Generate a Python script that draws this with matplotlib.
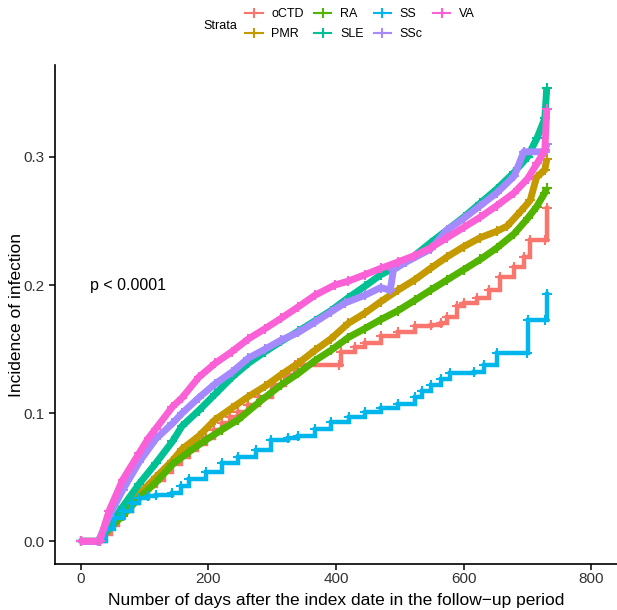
import matplotlib
matplotlib.use('Agg')
import matplotlib.pyplot as plt
from matplotlib.lines import Line2D

plt.rcParams.update({
  'font.family'      : 'Liberation Sans',
  'font.size'        : 11,
  'figure.facecolor' : 'w',
  'figure.dpi'       : 100,
  'axes.linewidth'   : 1.2,
  'xtick.direction'  : 'out',
  'ytick.direction'  : 'out',
  'xtick.major.size' : 4,
  'ytick.major.size' : 4,
  'xtick.major.width': 1.1,
  'ytick.major.width': 1.1,
  'xtick.major.pad'  : 2,
})

strata = ['oCTD', 'PMR', 'RA', 'SLE', 'SS', 'SSc', 'VA']
colors = ['#F8766D', '#C49A00', '#53B400', '#00C094', '#00B6EB', '#A58AFF', '#FB61D7']

# (day, cumulative incidence)
octd_days = [0, 28, 38, 48, 58, 68, 80, 92, 105, 118, 131, 144, 157, 170, 183, 196, 209, 221, 234, 247, 263, 280,
             300, 320, 336, 405, 408, 430, 445, 470, 497, 523, 548, 565, 574, 590, 600, 621, 640, 657, 679, 694, 704,
             727, 730]
octd_vals = [0, 0, 0.006, 0.013, 0.018, 0.024, 0.030, 0.036, 0.043, 0.048, 0.054, 0.060, 0.066, 0.071, 0.076, 0.081,
             0.087, 0.092, 0.097, 0.101, 0.106, 0.113, 0.122, 0.130, 0.1375, 0.1375, 0.148, 0.152, 0.155, 0.160, 0.163,
             0.168, 0.169, 0.170, 0.175, 0.184, 0.186, 0.190, 0.196, 0.206, 0.214, 0.222, 0.235, 0.235, 0.260]

pmr_days = [0, 28, 45, 66, 92, 118, 144, 159, 185, 211, 237, 263, 289, 314, 341, 367, 392, 419, 445, 470, 497, 523,
            548, 574, 600, 626, 652, 668, 690, 704, 714, 727, 730]
pmr_vals = [0, 0, 0.010, 0.022, 0.037, 0.050, 0.063, 0.072, 0.082, 0.095, 0.104, 0.113, 0.121, 0.130, 0.139, 0.149,
            0.158, 0.170, 0.178, 0.187, 0.196, 0.204, 0.213, 0.222, 0.230, 0.237, 0.242, 0.246, 0.258, 0.266, 0.284,
            0.290, 0.298]

ra_days = [0, 28, 45, 66, 92, 118, 144, 170, 196, 221, 247, 283, 314, 341, 367, 392, 419, 445, 470, 497, 523, 548,
           574, 600, 626, 652, 679, 700, 714, 727, 730]
ra_vals = [0, 0, 0.010, 0.020, 0.034, 0.046, 0.060, 0.070, 0.079, 0.087, 0.095, 0.110, 0.122, 0.131, 0.141, 0.149,
           0.159, 0.166, 0.173, 0.180, 0.188, 0.196, 0.204, 0.212, 0.220, 0.229, 0.240, 0.252, 0.261, 0.272, 0.276]

sle_days = [0, 28, 45, 66, 92, 118, 144, 159, 185, 211, 237, 263, 289, 314, 341, 367, 392, 419, 445, 470, 497, 523,
            548, 574, 600, 626, 652, 679, 700, 715, 727, 730]
sle_vals = [0, 0, 0.012, 0.027, 0.045, 0.061, 0.078, 0.090, 0.102, 0.115, 0.128, 0.139, 0.148, 0.156, 0.164, 0.172,
            0.180, 0.190, 0.199, 0.208, 0.215, 0.223, 0.233, 0.243, 0.253, 0.264, 0.275, 0.288, 0.300, 0.315, 0.330,
            0.354]

ss_days = [0, 28, 40, 53, 66, 80, 92, 105, 118, 144, 158, 170, 196, 221, 247, 274, 299, 325, 341, 367, 392, 420, 445,
           470, 497, 523, 535, 548, 565, 579, 616, 632, 652, 699, 701, 727, 730]
ss_vals = [0, 0, 0.010, 0.018, 0.024, 0.030, 0.034, 0.035, 0.036, 0.038, 0.043, 0.049, 0.054, 0.061, 0.066, 0.071,
           0.079, 0.081, 0.082, 0.088, 0.093, 0.097, 0.101, 0.104, 0.107, 0.113, 0.117, 0.122, 0.127, 0.131, 0.132,
           0.1375, 0.147, 0.147, 0.173, 0.173, 0.193]

ssc_days = [0, 28, 45, 66, 92, 118, 144, 159, 185, 211, 237, 263, 289, 314, 341, 367, 392, 414, 445, 470, 485, 490,
            510, 548, 574, 600, 626, 652, 679, 694, 727, 730]
ssc_vals = [0, 0, 0.020, 0.040, 0.062, 0.080, 0.092, 0.100, 0.112, 0.123, 0.132, 0.143, 0.150, 0.157, 0.163, 0.171,
            0.179, 0.186, 0.192, 0.198, 0.196, 0.212, 0.218, 0.228, 0.243, 0.252, 0.262, 0.272, 0.285, 0.304, 0.304,
            0.310]

va_days = [0, 30, 45, 66, 92, 107, 118, 144, 159, 185, 211, 237, 263, 289, 314, 341, 367, 398, 419, 445, 470, 497,
           523, 548, 574, 600, 626, 652, 679, 700, 715, 727, 730]
va_vals = [0, 0, 0.024, 0.048, 0.069, 0.081, 0.088, 0.105, 0.112, 0.128, 0.139, 0.148, 0.158, 0.166, 0.174, 0.183,
           0.192, 0.200, 0.203, 0.208, 0.213, 0.218, 0.223, 0.229, 0.237, 0.245, 0.253, 0.262, 0.272, 0.283, 0.295,
           0.305, 0.337]

curves = [(octd_days, octd_vals), (pmr_days, pmr_vals), (ra_days, ra_vals), (sle_days, sle_vals),
          (ss_days, ss_vals), (ssc_days, ssc_vals), (va_days, va_vals)]
stepped = ['oCTD', 'SS']

xticks = [0, 200, 400, 600, 800]
yticks = [0.0, 0.1, 0.2, 0.3]

fig = plt.figure(figsize=(6.17, 6.10))
ax = fig.add_axes([0.0891, 0.0754, 0.9109, 0.818])

for name, col, (d, v) in zip(strata, colors, curves):
    if name in stepped:
        ax.plot(d, v, color=col, lw=3.2, drawstyle='steps-post', solid_joinstyle='miter')
        ax.plot(d, v, color=col, lw=0, marker='+', ms=7, mew=1.5)
    else:
        ax.plot(d, v, color=col, lw=5, solid_capstyle='butt')
        ax.plot(d, v, color=col, lw=0, marker='+', ms=7, mew=1.5)

ax.text(15, 0.2, 'p < 0.0001', fontsize=11.5, ha='left', va='center')

ax.set_xlim(-40, 840)
ax.set_ylim(-0.0177, 0.3717)
ax.set_xticks(xticks)
ax.set_yticks(yticks)
ax.set_yticklabels(['%.1f' % t for t in yticks])
ax.tick_params(labelsize=11, colors='black', labelcolor='#333333')
for s in ['top', 'right']:
    ax.spines[s].set_visible(False)

ax.set_xlabel('Number of days after the index date in the follow\u2212up period', fontsize=12.5)
ax.set_ylabel('Incidence of infection', fontsize=12.5)
ax.xaxis.set_label_coords(0.5, -0.058)
ax.yaxis.set_label_coords(-0.056, 0.5)

handles = [Line2D([], [], color=c, lw=1.5, marker='+', ms=7, mew=1.5) for c in colors]
fig.legend(handles, strata, ncol=4, loc='upper left', bbox_to_anchor=(245 / 617, 1 - 8 / 610),
           frameon=False, fontsize=9, handlelength=1.4, handletextpad=0.7, columnspacing=0.8,
           labelspacing=0.65, borderpad=0, borderaxespad=0)
fig.text(203 / 617, 1 - 26 / 610, 'Strata', fontsize=9, ha='left', va='center')

plt.savefig('out.png', dpi=100)
